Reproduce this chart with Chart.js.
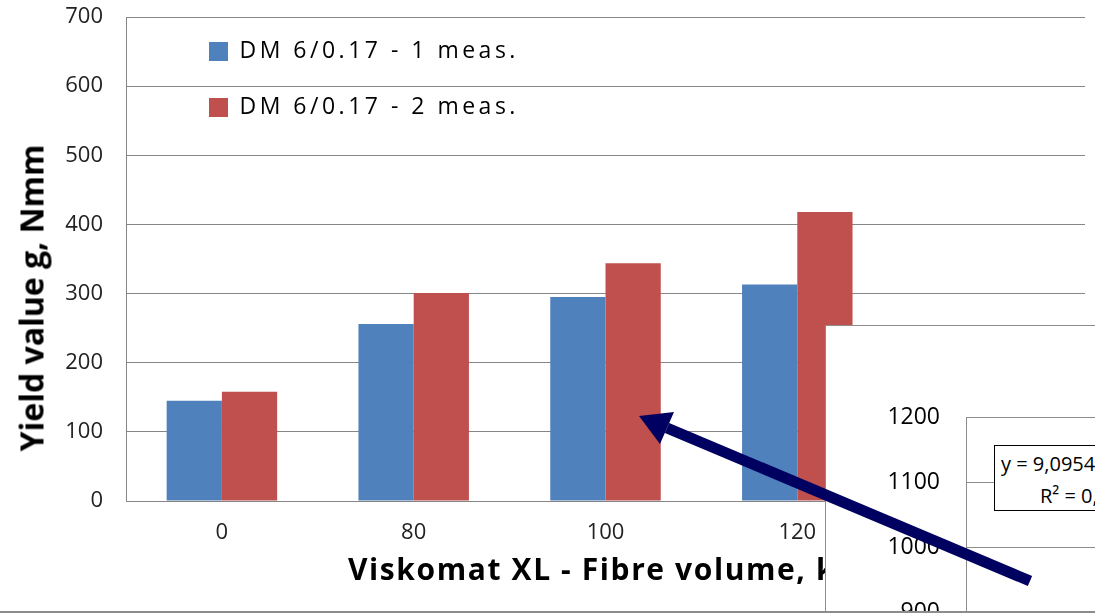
<!DOCTYPE html>
<html>
<head>
<meta charset="utf-8">
<script src="https://cdn.jsdelivr.net/npm/chart.js@4"></script>
<style>
  html, body { margin: 0; padding: 0; background: #fff; }
  #wrap { position: relative; width: 1095px; height: 613px; overflow: hidden; font-family: "Open Sans", sans-serif; }
  #main { position: absolute; left: 0; top: 0; }
  #ytitle { position: absolute; left: 31px; top: 298px; transform: translate(-50%, -50%) rotate(-90deg);
    white-space: nowrap; font-weight: bold; font-size: 32px; color: #000; }
  #xtitle { position: absolute; left: 348px; top: 551px; line-height: 36px; white-space: nowrap;
    font-weight: bold; font-size: 30px; letter-spacing: 1.6px; color: #000; }
  #frame { position: absolute; left: 0; top: 611px; width: 1095px; border-top: 2px solid #8c8c8c; }
  #inset { position: absolute; left: 825px; top: 325px; width: 270px; height: 288px; background: #fff;
    border-left: 1px solid #8c8c8c; border-top: 1px solid #8c8c8c; overflow: hidden; }
  #inset canvas { position: absolute; left: 0; top: 0; }
  #trend { position: absolute; left: 168px; top: 119px; width: 220px; height: 64px; background: #fff;
    border: 1px solid #000; font-size: 20px; color: #000; }
  #trend span { position: absolute; white-space: nowrap; line-height: 1; }
  #arrow { position: absolute; left: 0; top: 0; }
</style>
</head>
<body>
<div id="wrap">
  <canvas id="main" width="1095" height="613"></canvas>
  <div id="ytitle">Yield value g, Nmm</div>
  <div id="xtitle">Viskomat XL - Fibre volume, kg/m³</div>
  <div id="inset">
    <canvas id="inner" width="500" height="420"></canvas>
    <div id="trend">
      <span style="left:6px; top:8px;">y = 9,0954</span>
      <span style="left:45px; top:40px;">R² = 0,</span>
    </div>
  </div>
  <div id="frame"></div>
  <svg id="arrow" width="1095" height="613">
    <line x1="1030" y1="581" x2="667" y2="428" stroke="#000060" stroke-width="11" />
    <polygon points="639,416 674,412 660,444" fill="#000060" />
  </svg>
</div>
<script>
// chart values
const categories = ["0", "80", "100", "120", ""];
const meas1 = [145, 256, 295, 313, null];
const meas2 = [158, 301, 344, 418, null];
const seriesNames = ["DM 6/0.17 - 1 meas.", "DM 6/0.17 - 2 meas."];
const yTicks = [0, 700, 100];
const insetTicks = [800, 1200, 100];

Chart.defaults.font.family = '"Open Sans", sans-serif';
Chart.defaults.animation = false;

/* Put the in-plot legend where the original sits (first swatch at 209,42). */
const legendShift = {
  id: "legendShift",
  afterLayout(chart) {
    if (chart.legend) {
      chart.legend.left = 176;
      chart.legend.top = 7;
    }
  },
};

let main = new Chart(document.querySelector("#main"), {
  type: "bar",
  data: {
    labels: categories,
    datasets: [
      { label: seriesNames[0], data: meas1, backgroundColor: "#4F81BD" },
      { label: seriesNames[1], data: meas2, backgroundColor: "#C0504D" },
    ],
  },
  options: {
    responsive: false,
    layout: { padding: { left: 0, top: 17, right: 10, bottom: 0 } },
    datasets: { bar: { categoryPercentage: 0.576, barPercentage: 1 } },
    scales: {
      x: {
        grid: { display: false, drawTicks: false },
        border: { color: "#868686" },
        ticks: { font: { size: 22 }, color: "#222", padding: 19 },
        afterFit: (s) => { s.height = 112; },
      },
      y: {
        min: yTicks[0],
        max: yTicks[1],
        // gap to the axis comes from an invisible tick mark, so the plot top is not pushed down
        ticks: { stepSize: yTicks[2], font: { size: 22 }, color: "#222", padding: 0 },
        grid: { color: "#868686", tickLength: 23, tickColor: "rgba(0,0,0,0)" },
        border: { color: "#868686" },
        afterFit: (s) => { s.width = 126; },
      },
    },
    plugins: {
      legend: {
        position: "chartArea",
        align: "start",
        fullSize: false,
        labels: { boxWidth: 19, boxHeight: 19, padding: 33, font: { size: 23 }, color: "#000" },
      },
      tooltip: { enabled: false },
    },
  },
  plugins: [legendShift],
});

/* The original legend text is spaced out wider than the font gives. */
const legendDraw = main.legend.draw.bind(main.legend);
main.legend.draw = function (area) {
  main.ctx.save();
  main.ctx.letterSpacing = "3.5px";
  legendDraw(area);
  main.ctx.restore();
};
main.update();

/* The second chart lying over the corner of the first one. */
let inner = new Chart(document.querySelector("#inner"), {
  type: "scatter",
  data: { datasets: [{ data: [] }] },
  options: {
    responsive: false,
    layout: { padding: { left: 0, top: 91, right: 0, bottom: 69 } },
    scales: {
      x: { display: false, min: 0, max: 1 },
      y: {
        min: insetTicks[0],
        max: insetTicks[1],
        ticks: {
          stepSize: insetTicks[2],
          font: { size: 23 },
          color: "#000",
          padding: 26,
          callback: (v) => String(v),
        },
        grid: { color: "#8c8c8c", drawTicks: false },
        border: { color: "#8c8c8c" },
        afterFit: (s) => { s.width = 140; },
      },
    },
    plugins: { legend: { display: false }, tooltip: { enabled: false } },
  },
});
</script>
</body>
</html>
